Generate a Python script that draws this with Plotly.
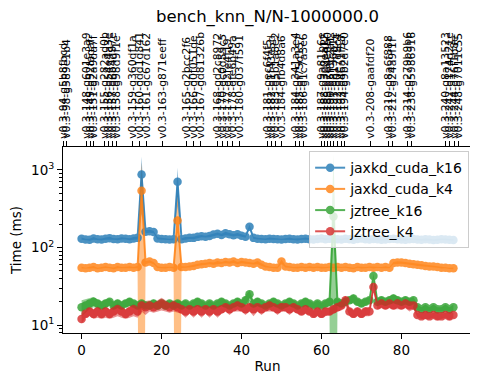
import plotly.graph_objects as go

runs = list(range(94))

# jaxkd_cuda_k16
blue_mean = [130,127,126,131,128,127,130,132,129,128,131,130,128,131,133,
             870,
             160,162,158,
             131,129,128,127,128,
             700,
             128,131,133,133,137,140,138,141,
             147,150,145,152,148,144,
             148,142,138,185,133,
             130,129,128,130,129,128,127,129,130,128,127,129,130,128,127,129,131,128,130,
             129,128,127,130,128,126,129,131,128,127,129,128,126,127,129,130,128,127,126,128,
             129,127,126,128,127,125,126,128,127,126,125]
blue_std = [4,3,4,5,3,4,4,5,3,4,4,3,4,5,6,
            600,
            8,7,6,
            4,3,4,3,4,
            360,
            4,5,4,5,6,5,4,6,
            7,6,5,8,6,5,
            6,5,5,12,4,
            3,4,3,4,3,4,3,3,4,3,4,3,4,3,3,4,3,4,3,
            3,4,3,4,3,3,4,3,4,3,3,4,3,4,3,3,4,3,4,3,3,4,3,4,3,3,4,3,4,3,3]

# jaxkd_cuda_k4
orange_mean = [55,54,55,56,54,55,56,55,54,56,55,55,56,55,56,
               537,
               64,66,63,
               56,55,55,56,55,
               222,
               56,56,57,58,60,
               61,62,63,62,64,63,65,64,66,63,65,64,63,62,64,60,
               57,56,55,55,
               66,
               57,56,55,55,56,55,56,55,56,55,55,56,
               55,56,55,56,55,54,56,55,55,56,55,56,55,56,55,
               63,64,64,63,62,61,60,59,58,57,57,56,55,55,54,54]
orange_std = [1.5,1,1.5,2,1,1.5,1.5,1,1.5,2,1,1.5,1.5,1,2,
              700,
              3,2.5,2,
              1.5,1,1.5,1,1.5,
              300,
              1.5,1,1.5,2,2,
              2,1.5,2,2,3,2,2.5,2,3,2,2.5,2,2,1.5,3,2,
              1.5,1,1,1.5,
              4,
              1.5,1,1,1.5,1,1,1.5,1,1,1.5,1,1,
              1,1.5,1,1,1.5,1,1,1.5,1,1,1.5,1,1,1.5,1,
              2,2.5,2,2,2.5,2,2,1.5,1.5,1.5,1,1,1.5,1,1,1.5]

# jztree_k16
green_mean = [17,18,19,20,19,18,19,20,18,19,18,19,20,19,18,
              19,18,18,19,18,19,18,19,18,19,18,
              19,18,19,20,19,18,19,18,19,20,19,18,19,20,19,21,
              25,
              19,20,19,18,19,20,19,18,19,20,19,18,19,20,19,18,19,18,19,20,
              250,
              20,19,20,21,22,20,19,20,21,
              43,
              20,21,20,21,22,21,20,21,20,21,
              17,16,17,16,17,16,16,17,16,17]
green_std = [4,3.5,3,3,2.5,2,2.5,2,2,2.5,2,2,2.5,2,2,
             2,1.5,2,2.5,2,1.5,2,2,1.5,2,2,
             2,1.5,2,2.5,2,1.5,2,1.5,2,2.5,2,1.5,2,2.5,2,3,
             3,
             2,2.5,2,1.5,2,2.5,2,1.5,2,2.5,2,1.5,2,2.5,2,1.5,2,1.5,2,2.5,
             1300,
             2,2,2.5,2,3,2,2,2,2,
             3,
             2,2.5,2,2.5,3,2.5,2,2.5,2,2,
             1.5,1,1.5,1,1.5,1,1,1.5,1,1.5]

# jztree_k4
red_mean = [12,
            14,15,14,15,14,15,14,15,16,15,14,15,16,15,
            18,17,18,17,18,19,18,17,18,17,
            16,15,16,15,16,15,16,15,16,15,16,
            17,16,17,18,17,16,17,16,17,16,17,18,17,16,17,17,16,17,16,15,16,15,14,15,14,15,15,
            16,17,18,21,15,14,15,14,15,15,
            31,
            18,19,18,19,18,19,18,19,18,18,
            13.5,13,13.5,13,13.5,13,13,13.5,13,13.5]
red_std = [1.5,
           1.5,2,2,2.5,2,2.5,2,2.5,3,2.5,2,2.5,3,2.5,
           3,3.5,3,2.5,3,3.5,3,2.5,3,2.5,
           2,2.5,2,2.5,2,2.5,2,2.5,2,2.5,2,
           2,2.5,2,3,2,2.5,2,3,2,2.5,2,3,2,2.5,2,2,2.5,2,2,1.5,2,1.5,1.5,2,1.5,2,1.5,
           2,2,2.5,3,2,1.5,2,1.5,2,2,
           3,
           2,2.5,2,2.5,2,3,2,2.5,3,2,
           1,1,1.5,1,1,1.5,1,1,1.5,1]

series_names = ["jaxkd_cuda_k16", "jaxkd_cuda_k4", "jztree_k16", "jztree_k4"]
series_colors = ["#1f77b4", "#ff7f0e", "#2ca02c", "#d62728"]
series_means = [blue_mean, orange_mean, green_mean, red_mean]
series_stds = [blue_std, orange_std, green_std, red_std]

version_pos = [-4.55, -3.68,
               1.25, 2.25, 3.08,
               5.83, 6.83, 7.83, 8.83,
               12.83, 14.58, 16.25,
               20.33,
               26.33, 28.08, 29.83,
               34.08, 35.33, 36.58, 37.83, 39.58,
               46.58, 47.58, 48.58, 50.08,
               53.58, 54.58, 55.58,
               60.08, 60.83, 61.58, 62.33, 63.08, 64.08, 65.08, 65.83,
               72.33,
               76.83, 77.83,
               81.58, 82.58,
               91.08, 92.08, 93.33, 94.33]
version_labels = ["v0.3-94-g5b8fbcd", "v0.3-98-g589e1b4",
                  "v0.3-148-g601e3a9", "v0.3-149-g92fadaf", "v0.3-151-g2a9da7f",
                  "v0.3-155-g282ad0b", "v0.3-156-g54e4a3e", "v0.3-157-g6b4d97e", "v0.3-158-g98d9f1e",
                  "v0.3-159-g360df1a", "v0.3-160-gdd1d841", "v0.3-161-gc67d162",
                  "v0.3-163-g871eeff",
                  "v0.3-165-g2bcc2f6", "v0.3-166-g0f051de", "v0.3-167-gd81326b",
                  "v0.3-168-gd2c8972", "v0.3-170-gc0d59c5", "v0.3-177-g3fe4f19", "v0.3-178-gfe6b49a", "v0.3-180-g037f591",
                  "v0.3-181-gec6f4f5", "v0.3-182-g1f43e5d", "v0.3-183-g5b1a8e2", "v0.3-184-gfb4d8a6",
                  "v0.3-184-g341a3e4", "v0.3-185-gf75d157", "v0.3-186-g1c7a3e6",
                  "v0.3-187-g9a81b6e", "v0.3-188-g3c0ea12", "v0.3-189-g7d4e9b0", "v0.3-190-g5f8c2a1",
                  "v0.3-191-g8136b1e", "v0.3-192-g0e7d9c4", "v0.3-193-g46a1f58", "v0.3-194-g9b2d7e0",
                  "v0.3-208-gaafdf20",
                  "v0.3-210-g8a6f888", "v0.3-212-g24a9f1f",
                  "v0.3-214-g279b9b6", "v0.3-238-g5986916",
                  "v0.3-240-g8a13523", "v0.3-242-g174d21e", "v0.3-244-g76f1b8e", "v0.3-248-g7011c55"]

y_major = [10, 100, 1000]
y_major_text = ["10<sup>1</sup>", "10<sup>2</sup>", "10<sup>3</sup>"]
y_minor = [m * 10 ** k for k in range(0, 4) for m in range(2, 10)]

FONT = "DejaVu Sans"


def rgba(hex_color, a):
    h = hex_color.lstrip("#")
    r, g, b = int(h[0:2], 16), int(h[2:4], 16), int(h[4:6], 16)
    return f"rgba({r},{g},{b},{a})"


fig = go.Figure()

# bands (mean +/- std), drawn beneath all lines
for name, color, m, s in zip(series_names, series_colors, series_means, series_stds):
    upper = [a + b for a, b in zip(m, s)]
    lower = [max(a - b, 1e-6) for a, b in zip(m, s)]
    fig.add_trace(go.Scatter(x=runs, y=upper, mode="lines", line=dict(width=0, color=color),
                             showlegend=False, hoverinfo="skip"))
    fig.add_trace(go.Scatter(x=runs, y=lower, mode="lines", line=dict(width=0, color=color),
                             fill="tonexty", fillcolor=rgba(color, 0.5),
                             showlegend=False, hoverinfo="skip"))

for name, color, m in zip(series_names, series_colors, series_means):
    fig.add_trace(go.Scatter(x=runs, y=m, mode="lines+markers", name=name,
                             line=dict(color=color, width=2),
                             marker=dict(size=8.5, color=color),
                             opacity=0.8))

# carrier for the top (version) axis
fig.add_trace(go.Scatter(x=version_pos, y=[None] * len(version_pos), xaxis="x2",
                         mode="markers", showlegend=False, hoverinfo="skip"))

# the page body adds an 8px offset, so the figure is 8px smaller and shifted
W, H = 470, 374
xr = [-4.65, 97.65]
fig.update_layout(
    width=W, height=H,
    margin=dict(l=55, r=6, t=139, b=49, autoexpand=False),
    paper_bgcolor="white", plot_bgcolor="white",
    font=dict(family=FONT, size=14, color="black"),
    title=dict(text="bench_knn_N/N-1000000.0", x=0.5, xref="paper", xanchor="center",
               y=1 - 8 / H, yref="container", yanchor="middle",
               font=dict(family=FONT, size=16.5, color="black")),
    showlegend=True,
    legend=dict(x=0.993, y=0.978, xanchor="right", yanchor="top", traceorder="normal",
                bgcolor="rgba(255,255,255,0.8)", bordercolor="#cccccc", borderwidth=1,
                font=dict(family=FONT, size=14, color="black"), itemwidth=30),
    xaxis=dict(range=xr, tickvals=[0, 20, 40, 60, 80], ticks="outside", ticklen=5,
               tickwidth=1, tickcolor="black", showline=True, linecolor="black",
               linewidth=1, mirror=True, showgrid=False, zeroline=False, automargin=False,
               tickfont=dict(family=FONT, size=13.5),
               title=dict(text="Run", font=dict(family=FONT, size=13.5), standoff=4)),
    xaxis2=dict(range=xr, overlaying="x", side="top", anchor="y", automargin=False,
                tickmode="array", tickvals=version_pos, ticktext=version_labels,
                tickangle=-90, ticks="outside", ticklen=5, tickwidth=1, tickcolor="black",
                showgrid=False, zeroline=False, showline=False,
                tickfont=dict(family=FONT, size=10.8)),
    yaxis=dict(type="log", range=[0.9, 3.293], tickmode="array", tickvals=y_major,
               ticktext=y_major_text, ticks="outside", ticklen=5, tickwidth=1,
               tickcolor="black", showline=True, linecolor="black", linewidth=1,
               mirror=True, showgrid=False, zeroline=False, automargin=False,
               tickfont=dict(family=FONT, size=13.5),
               minor=dict(tickmode="array", tickvals=y_minor, ticks="outside", ticklen=3,
                          tickwidth=0.8, tickcolor="black", showgrid=False),
               title=dict(text="Time (ms)", font=dict(family=FONT, size=13.5), standoff=8)),
)

fig.write_html("out.html")
